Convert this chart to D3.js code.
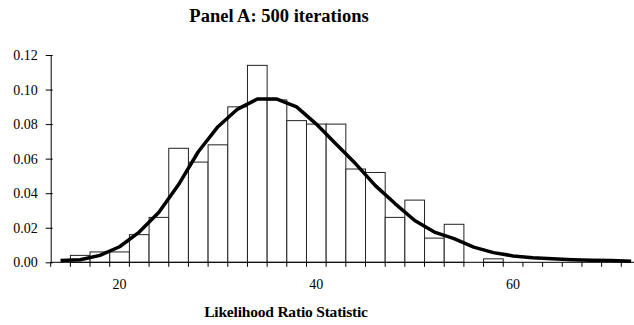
<!DOCTYPE html>
<html>
<head>
<meta charset="utf-8">
<script src="https://cdn.jsdelivr.net/npm/d3@7"></script>
<style>
  body { margin: 0; background: #fff; }
  svg text { font-family: "Liberation Serif", "Times New Roman", serif; fill: #000; }
</style>
</head>
<body>
<script>
// bin centres of the likelihood ratio statistic (bin width 2)
const categories = [14, 16, 18, 20, 22, 24, 26, 28, 30, 32, 34, 36, 38, 40, 42,
                    44, 46, 48, 50, 52, 54, 56, 58, 60, 62, 64, 66, 68, 70, 72];
// observed relative frequencies (bars)
const observed = [0, 0.004, 0.006, 0.006, 0.016, 0.026, 0.066, 0.058, 0.068, 0.090, 0.114, 0.094, 0.082, 0.080, 0.080,
                  0.054, 0.052, 0.026, 0.036, 0.014, 0.022, 0, 0.002, 0, 0, 0, 0, 0, 0, 0];
// theoretical density (line)
const expected = [0.001, 0.0015, 0.004, 0.009, 0.0175, 0.029, 0.045, 0.064, 0.0785, 0.0887, 0.0945, 0.0945, 0.090, 0.080, 0.0685,
                  0.057, 0.0444, 0.034, 0.0242, 0.0175, 0.0137, 0.0088, 0.0056, 0.0037, 0.0027, 0.002, 0.0015, 0.0012, 0.001, 0.0006];
const yTicks = [0, 0.02, 0.04, 0.06, 0.08, 0.10, 0.12];
const xLabels = [20, 40, 60];

const width = 634;
const height = 325;
const serif = '"Liberation Serif", "Times New Roman", serif';

const svg = d3.select('body').append('svg')
  .attr('width', width)
  .attr('height', height);

const x = d3.scaleBand().domain(categories).range([50.7, 50.7 + 30 * 19.676]).padding(0);
const y = d3.scaleLinear().domain([0, 0.12]).range([262.3, 55]);

const data = categories.map((c, i) => ({ c, obs: observed[i], exp: expected[i] }));

// bars
svg.append('g')
  .selectAll('rect')
  .data(data.filter(d => d.obs > 0))
  .join('rect')
  .attr('x', d => x(d.c))
  .attr('y', d => y(d.obs))
  .attr('width', x.bandwidth())
  .attr('height', d => y(0) - y(d.obs))
  .attr('fill', '#fff')
  .attr('stroke', '#222')
  .attr('stroke-width', 1);

// y axis
const yAxis = d3.axisLeft(y)
  .tickValues(yTicks)
  .tickFormat(d3.format('.2f'))
  .tickSize(5)
  .tickSizeOuter(0)
  .tickPadding(8);

svg.append('g')
  .attr('transform', 'translate(50.7,0)')
  .call(yAxis)
  .attr('font-family', serif)
  .attr('font-size', 14)
  .call(g => g.selectAll('.tick line').attr('x2', -5).attr('x1', 2));

// x axis: line, boundary ticks, labels
const xg = svg.append('g');
xg.append('line')
  .attr('x1', 50.7).attr('x2', width)
  .attr('y1', y(0)).attr('y2', y(0))
  .attr('stroke', '#000');
xg.selectAll('line.bt')
  .data(categories)
  .join('line')
  .attr('class', 'bt')
  .attr('x1', d => x(d)).attr('x2', d => x(d))
  .attr('y1', y(0)).attr('y2', y(0) + 4.5)
  .attr('stroke', '#000');

const xAxis = d3.axisBottom(x).tickValues(xLabels).tickSize(0).tickPadding(17);
svg.append('g')
  .attr('transform', `translate(0,${y(0)})`)
  .call(xAxis)
  .attr('font-family', serif)
  .attr('font-size', 14)
  .call(g => g.select('.domain').remove());

// density line
const line = d3.line()
  .x(d => x(d.c) + x.bandwidth() / 2)
  .y(d => y(d.exp));

svg.append('path')
  .datum(data)
  .attr('d', line)
  .attr('fill', 'none')
  .attr('stroke', '#000')
  .attr('stroke-width', 3.5)
  .attr('stroke-linejoin', 'round');

// titles
svg.append('text')
  .attr('x', 279).attr('y', 22)
  .attr('text-anchor', 'middle')
  .attr('font-weight', 'bold')
  .attr('font-size', 18.5)
  .text('Panel A: 500 iterations');

svg.append('text')
  .attr('x', 286).attr('y', 317)
  .attr('text-anchor', 'middle')
  .attr('font-weight', 'bold')
  .attr('font-size', 15.5)
  .attr('letter-spacing', -0.2)
  .text('Likelihood Ratio Statistic');
</script>
</body>
</html>
